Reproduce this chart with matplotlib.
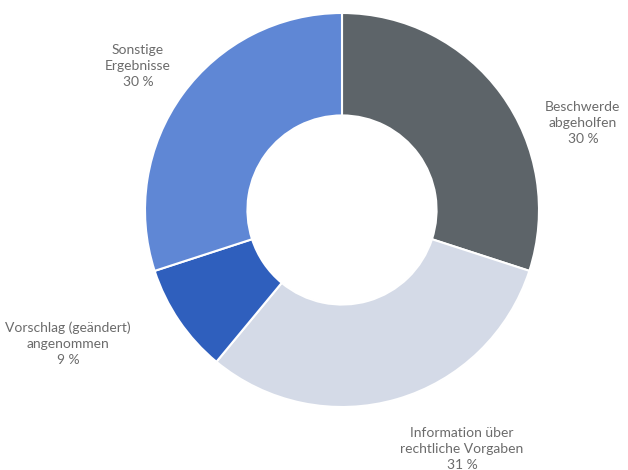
import matplotlib.pyplot as plt

categories = ["Beschwerde\nabgeholfen", "Information über\nrechtliche Vorgaben",
              "Vorschlag (geändert)\nangenommen", "Sonstige\nErgebnisse"]
values = [30, 31, 9, 30]
percent_labels = ["30 %", "31 %", "9 %", "30 %"]

colors = ["#5d6469", "#d4dae7", "#2f5fbd", "#5f87d5"]
# label anchor points (axes data coords, radius 1 = outer edge)
label_pos = [(1.223, 0.442), (0.609, -1.215), (-1.390, -0.680), (-1.036, 0.731)]

fig = plt.figure(figsize=(6.28, 4.70), dpi=100)
ax = fig.add_axes([145 / 628, 63 / 470, 394 / 628, 394 / 470])

ax.pie(values, colors=colors, startangle=90, counterclock=False, radius=1,
       wedgeprops=dict(width=0.52, edgecolor="white", linewidth=1.5))
ax.set_xlim(-1, 1)
ax.set_ylim(-1, 1)
ax.set_aspect("equal")
ax.axis("off")

for (x, y), cat, pct in zip(label_pos, categories, percent_labels):
    ax.text(x, y, cat + "\n" + pct, ha="center", va="center", fontsize=10,
            family=["Lato", "DejaVu Sans"], color="#6b6b6b",
            linespacing=1.4, clip_on=False)

fig.savefig("out.png", dpi=100)
